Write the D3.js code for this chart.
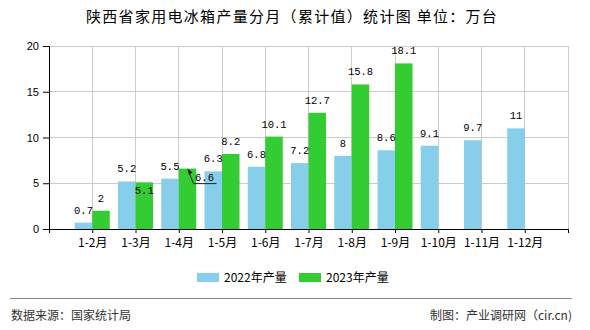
<!DOCTYPE html>
<html>
<head>
<meta charset="utf-8">
<script src="https://cdn.jsdelivr.net/npm/d3@7/dist/d3.min.js"></script>
<style>
  html, body { margin: 0; padding: 0; background: #fff; }
  svg { display: block; }
</style>
</head>
<body>
<svg id="chart" width="590" height="330"></svg>
<script>
const categories = ["1-2月","1-3月","1-4月","1-5月","1-6月","1-7月","1-8月","1-9月","1-10月","1-11月","1-12月"];
const values2022 = [0.7, 5.2, 5.5, 6.3, 6.8, 7.2, 8, 8.6, 9.1, 9.7, 11];
const values2023 = [2, 5.1, 6.6, 8.2, 10.1, 12.7, 15.8, 18.1, null, null, null];
const yTicks = [0, 5, 10, 15, 20];
const seriesNames = ["2022年产量", "2023年产量"];
const colors = ["#87ceeb", "#33cc33"];

const svg = d3.select("#chart");
const pL = 49, pR = 568, pT = 46, pB = 229;
const bw = 17.5;

const x = d3.scalePoint().domain(["__s", ...categories, "__e"]).range([pL, pR]);
const y = d3.scaleLinear().domain([0, 20]).range([pB, pT]);

// title
svg.append("text").attr("x", 86).attr("y", 22)
  .attr("font-family", "'Noto Sans CJK SC', sans-serif").attr("font-size", 15)
  .attr("letter-spacing", 1.3).attr("fill", "#000")
  .text("陕西省家用电冰箱产量分月（累计值）统计图 单位：万台");

// grid
const g = svg.append("g");
g.selectAll("line.h").data(yTicks.filter(d => d > 0)).join("line")
  .attr("x1", pL).attr("x2", pR).attr("y1", d => y(d)).attr("y2", d => y(d))
  .attr("stroke", "#cccccc").attr("stroke-width", 1).attr("shape-rendering", "crispEdges");
g.selectAll("line.v").data([...categories, "__e"]).join("line")
  .attr("x1", d => x(d)).attr("x2", d => x(d)).attr("y1", pT).attr("y2", pB)
  .attr("stroke", "#cccccc").attr("stroke-width", 1).attr("shape-rendering", "crispEdges");

// bars
const bars = svg.append("g");
bars.selectAll("rect.a").data(categories).join("rect")
  .attr("x", (d, i) => x(d) - bw).attr("width", bw)
  .attr("y", (d, i) => y(values2022[i])).attr("height", (d, i) => pB - y(values2022[i]))
  .attr("fill", colors[0]);
bars.selectAll("rect.b").data(categories.filter((d, i) => values2023[i] != null)).join("rect")
  .attr("x", d => x(d)).attr("width", bw)
  .attr("y", (d, i) => y(values2023[i])).attr("height", (d, i) => pB - y(values2023[i]))
  .attr("fill", colors[1]);

// axes
const yAxis = svg.append("g").attr("transform", `translate(${pL},0)`)
  .call(d3.axisLeft(y).tickValues(yTicks).tickSize(6).tickPadding(4));
yAxis.selectAll("text").attr("font-family", "'Liberation Sans', sans-serif").attr("font-size", 11).attr("fill", "#000");
yAxis.select(".domain").attr("stroke", "#000");
yAxis.selectAll(".tick line").attr("stroke", "#000");

const xAxis = svg.append("g").attr("transform", `translate(0,${pB})`)
  .call(d3.axisBottom(x).tickSize(4).tickSizeOuter(0).tickPadding(5)
    .tickFormat(d => d.startsWith("__") ? "" : d));
xAxis.selectAll("text").attr("font-family", "'Noto Sans CJK SC', sans-serif").attr("font-size", 12).attr("fill", "#000");
xAxis.select(".domain").attr("stroke", "#000");
xAxis.selectAll(".tick line").attr("stroke", "#000");

// value labels
const labelFont = "'Liberation Mono', monospace";
const lab = svg.append("g").attr("font-family", labelFont).attr("font-size", 10.5).attr("fill", "#000").attr("text-anchor", "middle");
lab.selectAll("text.a").data(categories).join("text")
  .attr("x", d => x(d) - bw / 2)
  .attr("y", (d, i) => y(values2022[i]) - 9)
  .text((d, i) => values2022[i]);

// special placement for some 2023 labels (collision avoidance as in original)
const special = { 1: "inside", 2: "leader" };
categories.forEach((c, i) => {
  const v = values2023[i];
  if (v == null) return;
  const cx = x(c) + bw / 2, ty = y(v);
  if (special[i] === "inside") {
    lab.append("text").attr("x", cx).attr("y", ty + 12).text(v);
  } else if (special[i] === "leader") {
    lab.append("text").attr("x", cx + 17).attr("y", ty + 12.5).text(v);
    svg.append("path")
      .attr("d", `M${cx + 0.5},${ty + 1.5} L${cx + 6},${ty + 15} L${cx + 29},${ty + 15}`)
      .attr("fill", "none").attr("stroke", "#222").attr("stroke-width", 1);
    svg.append("path")
      .attr("d", `M${cx},${ty} L${cx + 5},${ty + 4} L${cx + 1.5},${ty + 6} Z`)
      .attr("fill", "#111");
  } else {
    lab.append("text").attr("x", cx).attr("y", ty - 9).text(v);
  }
});

// legend
const legX = [197, 299];
seriesNames.forEach((n, i) => {
  svg.append("rect").attr("x", legX[i]).attr("y", 273).attr("width", 22).attr("height", 9).attr("fill", colors[i]);
  svg.append("text").attr("x", legX[i] + 27).attr("y", 281.5)
    .attr("font-family", "'Noto Sans CJK SC', sans-serif").attr("font-size", 12).attr("fill", "#000")
    .text(n);
});

// footer
svg.append("line").attr("x1", 10).attr("x2", 572).attr("y1", 298.5).attr("y2", 298.5)
  .attr("stroke", "#888").attr("stroke-width", 1);
svg.append("text").attr("x", 11).attr("y", 319.5)
  .attr("font-family", "'Noto Sans CJK SC', sans-serif").attr("font-size", 12).attr("fill", "#333")
  .text("数据来源：国家统计局");
svg.append("text").attr("x", 572).attr("y", 319.5).attr("text-anchor", "end")
  .attr("font-family", "'Noto Sans CJK SC', sans-serif").attr("font-size", 12).attr("fill", "#333")
  .text("制图：产业调研网（cir.cn)");
</script>
</body>
</html>
